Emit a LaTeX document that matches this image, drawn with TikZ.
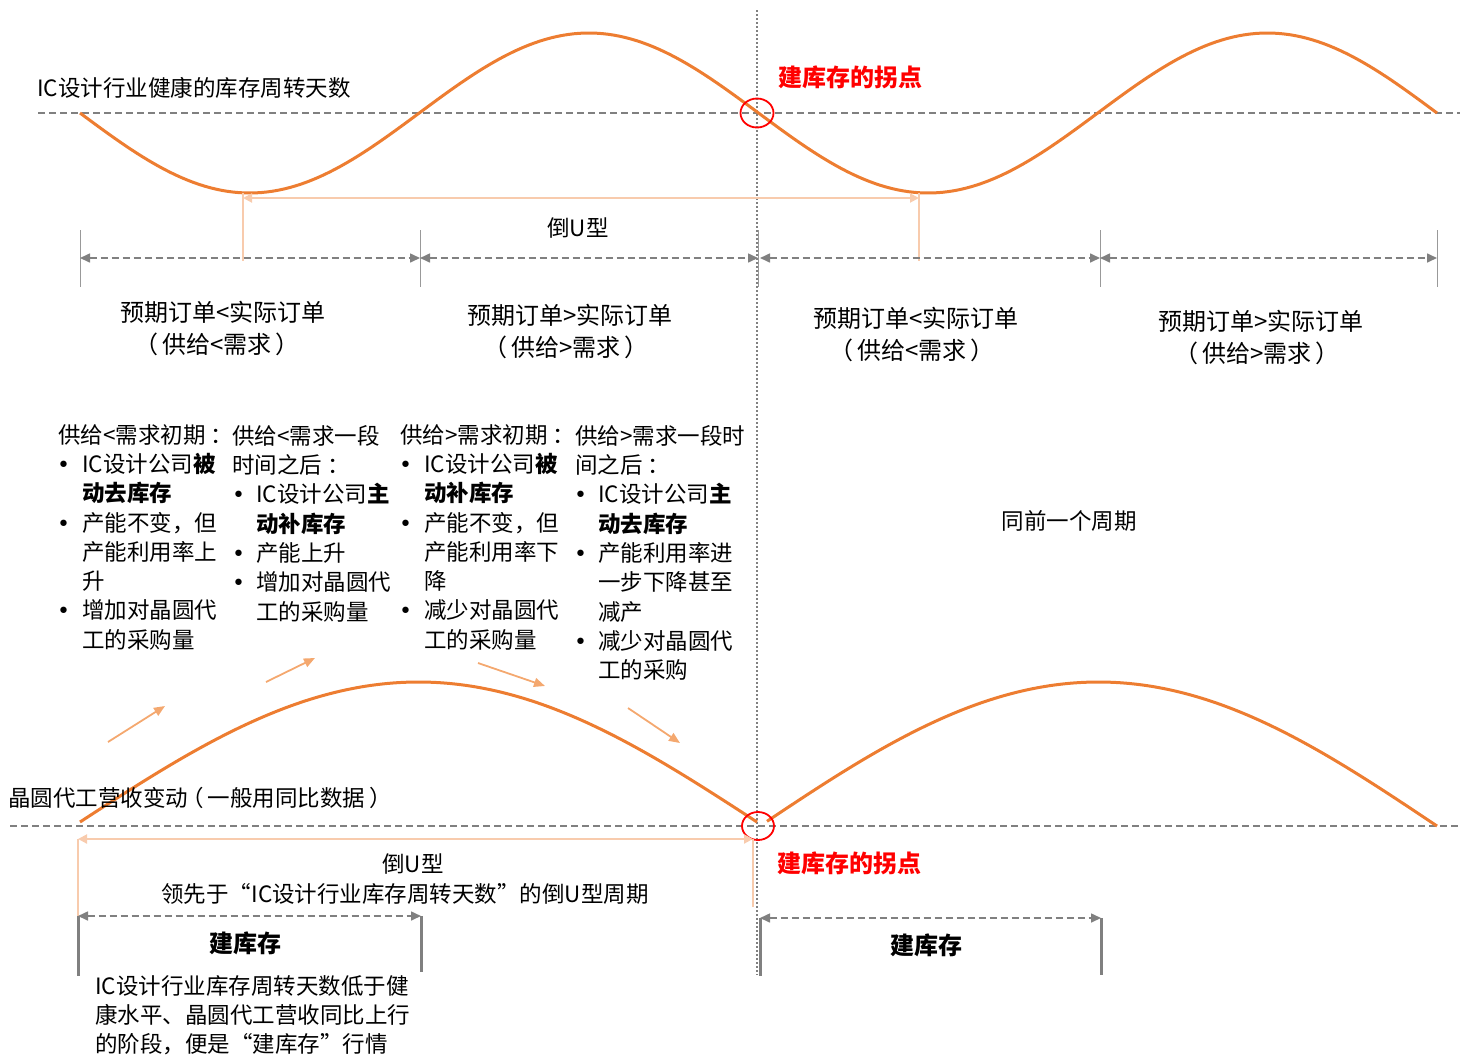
\documentclass[tikz,border=0pt]{standalone}
\usepackage{fontspec}
\setmainfont{Noto Sans CJK SC}
\newfontfamily\bltfont{DejaVu Sans}
\usetikzlibrary{arrows.meta,shapes.geometric}
\definecolor{curveor}{HTML}{ED7D31}
\definecolor{paleor}{HTML}{F8CBAD}
\definecolor{midor}{HTML}{F4A86F}
\definecolor{grline}{HTML}{808080}
\definecolor{redmark}{HTML}{FF0000}
\newcommand{\blt}{\makebox[24pt][l]{\hspace{-1pt}{\bltfont\fontsize{22}{22}\selectfont •}}}
\newcommand{\bltb}{\makebox[23pt][l]{\hspace{-1pt}{\bltfont\fontsize{22}{22}\selectfont •}}}
\newcommand{\ind}{\hspace*{24pt}}
\newcommand{\indb}{\hspace*{23pt}}
\newcommand{\cln}{\hspace{5pt}：}
\newcommand{\lp}{（\hspace{4pt}}
\newcommand{\rp}{\hspace{4pt}）}
\begin{document}
\begin{tikzpicture}[x=1pt,y=-1pt,
  txt/.style={font=\fontsize{22.5}{29.3}\selectfont, inner sep=0pt, align=left},
  ctxt/.style={font=\fontsize{24}{32}\selectfont, inner sep=0pt, align=center},
  redtxt/.style={font=\fontsize{24}{28}\selectfont\bfseries, text=redmark, inner sep=0pt},
  boldtxt/.style={font=\fontsize{24}{28}\selectfont\bfseries, inner sep=0pt},
  wave/.style={draw=curveor, line width=3pt},
  baseline/.style={draw=grline, line width=1.8pt, dash pattern=on 7pt off 4pt},
  dimline/.style={draw=grline, line width=1.6pt, dash pattern=on 7pt off 4pt, {Triangle[length=10pt,width=9pt]}-{Triangle[length=10pt,width=9pt]}},
  tick/.style={draw=grline!80, line width=1pt},
  thicktick/.style={draw=grline, line width=3pt},
  palearrow/.style={draw=paleor, line width=2pt, {Triangle[length=9pt,width=9pt]}-{Triangle[length=9pt,width=9pt]}},
  paleline/.style={draw=paleor, line width=2pt},
  smallarrow/.style={draw=midor, line width=1.8pt, -{Triangle[length=11pt,width=9pt]}},
  ring/.style={draw=redmark, line width=1.8pt}
]
\useasboundingbox (0,0) rectangle (1460,1058);

% ---------- coordinates ----------
\coordinate (tl0) at (38,113);   \coordinate (tl1) at (1460,113);
\coordinate (bl0) at (10,826);   \coordinate (bl1) at (1460,826);
\coordinate (vd0) at (757,10);   \coordinate (vd1) at (757,975);

% baselines
\draw[baseline] (tl0) -- (tl1);
\draw[baseline] (bl0) -- (bl1);
\draw[draw=grline, line width=1.5pt, dash pattern=on 1.5pt off 2.5pt] (vd0) -- (vd1);

% waves
\draw[wave] plot[domain=80:1437, samples=240] (\x, {113+80*sin((\x-80)/678.5*360)});
\draw[wave] plot[domain=80:757, samples=160] (\x, {822-140*sin((\x-80)/677*180)});
\draw[wave] plot[domain=767:1437, samples=160] (\x, {826-144*sin((\x-760)/677*180)});

% red rings
\node[ring, ellipse, minimum width=33pt, minimum height=29pt, inner sep=0pt] (ringT) at (757,113) {};
\node[ring, ellipse, minimum width=32pt, minimum height=28pt, inner sep=0pt] (ringB) at (758,826) {};

% ---------- top labels ----------
\node[txt, anchor=west] (title1) at (37,88) {IC设计行业健康的库存周转天数};
\node[redtxt, anchor=west] (red1) at (778,77) {建库存的拐点};

% pale bracket top
\coordinate (pa0) at (243,198); \coordinate (pa1) at (919,198);
\coordinate (pv0a) at (243,193); \coordinate (pv0b) at (243,261);
\coordinate (pv1a) at (919,193); \coordinate (pv1b) at (919,261);
\draw[paleline] (pv0a) -- (pv0b);
\draw[paleline] (pv1a) -- (pv1b);
\draw[palearrow] (pa0) -- (pa1);
\node[txt, anchor=center] (invU1) at (578,228) {倒U型};

% dimension lines top
\foreach \n/\x in {t0/80, t1/420, t2/758, t3/1100, t4/1437}{
  \coordinate (\n a) at (\x,230); \coordinate (\n b) at (\x,287); \coordinate (\n m) at (\x,258);
  \draw[tick] (\n a) -- (\n b);
}
\draw[dimline] (t0m) -- (t1m);
\draw[dimline] (t1m) -- (t2m);
\draw[dimline] ([xshift=2pt]t2m) -- (t3m);
\draw[dimline] (t3m) -- (t4m);

% period labels
\node[ctxt] (per1) at (223,328) {预期订单<实际订单\\\lp 供给<需求\rp\makebox[12pt]{}};
\node[ctxt] (per2) at (570,331) {预期订单>实际订单\\\lp 供给>需求\rp\makebox[8pt]{}};
\node[ctxt] (per3) at (916,334) {预期订单<实际订单\\\lp 供给<需求\rp\makebox[8pt]{}};
\node[ctxt] (per4) at (1261,337) {预期订单>实际订单\\\lp 供给>需求\rp\makebox[8pt]{}};

% ---------- bullet columns ----------
\node[txt, anchor=north west] (col1) at (58,424) {供给<需求初期\cln\\
\blt IC设计公司\textbf{被}\\
\ind\textbf{动去库存}\\
\blt 产能不变，但\\
\ind 产能利用率上\\
\ind 升\\
\blt 增加对晶圆代\\
\ind 工的采购量};

\node[txt, anchor=north west] (col2) at (232,425) {供给<需求一段\\
时间之后\cln\\
\hspace*{1pt}\bltb IC设计公司\textbf{主}\\
\hspace*{1pt}\indb\textbf{动补库存}\\
\hspace*{1pt}\bltb 产能上升\\
\hspace*{1pt}\bltb 增加对晶圆代\\
\hspace*{1pt}\indb 工的采购量};

\node[txt, anchor=north west] (col3) at (400,424) {供给>需求初期\cln\\
\blt IC设计公司\textbf{被}\\
\ind\textbf{动补库存}\\
\blt 产能不变，但\\
\ind 产能利用率下\\
\ind 降\\
\blt 减少对晶圆代\\
\ind 工的采购量};

\node[txt, anchor=north west] (col4) at (575,425) {供给>需求一段时\\
间之后\cln\\
\bltb IC设计公司\textbf{主}\\
\indb\textbf{动去库存}\\
\bltb 产能利用率进\\
\indb 一步下降甚至\\
\indb 减产\\
\bltb 减少对晶圆代\\
\indb 工的采购};

\node[txt, anchor=center] (same) at (1069,521) {同前一个周期};

% small trend arrows
\coordinate (sa1a) at (108,742); \coordinate (sa1b) at (165,706);
\coordinate (sa2a) at (266,682); \coordinate (sa2b) at (315,658);
\coordinate (sa3a) at (478,663); \coordinate (sa3b) at (545,686);
\coordinate (sa4a) at (628,708); \coordinate (sa4b) at (680,743);
\draw[smallarrow] (sa1a) -- (sa1b);
\draw[smallarrow] (sa2a) -- (sa2b);
\draw[smallarrow] (sa3a) -- (sa3b);
\draw[smallarrow] (sa4a) -- (sa4b);

% ---------- bottom labels ----------
\node[txt, anchor=west] (wafer) at (8,798) {晶圆代工营收变动\hspace{-7pt}\lp 一般用同比数据\rp};
\node[redtxt, anchor=west] (red2) at (777,863) {建库存的拐点};

% pale bracket bottom
\coordinate (pb0) at (78,839); \coordinate (pb1) at (753,839);
\coordinate (pbv0b) at (78,916); \coordinate (pbv1b) at (753,907);
\draw[paleline] (pb0) -- (pbv0b);
\draw[paleline] (pb1) -- (pbv1b);
\draw[palearrow] (pb0) -- (pb1);
\node[txt, anchor=center] (invU2) at (413,864) {倒U型};
\node[txt, anchor=center] (lead) at (405,894) {领先于“IC设计行业库存周转天数”的倒U型周期};

% build-inventory brackets
\coordinate (bd0) at (78,916); \coordinate (bd1) at (421,916);
\coordinate (bd0v) at (78,976); \coordinate (bd1v) at (421,972);
\draw[thicktick] (bd0) -- (bd0v);
\draw[thicktick] (bd1) -- (bd1v);
\draw[dimline] (bd0) -- (bd1);
\node[boldtxt, anchor=center] (build1) at (245,943) {建库存};

\coordinate (bc0) at (760,918); \coordinate (bc1) at (1101,918);
\coordinate (bc0v) at (760,976); \coordinate (bc1v) at (1101,975);
\draw[thicktick] (bc0) -- (bc0v);
\draw[thicktick] (bc1) -- (bc1v);
\draw[dimline] (bc0) -- (bc1);
\node[boldtxt, anchor=center] (build2) at (926,945) {建库存};

\node[txt, anchor=north west] (para) at (95,975) {IC设计行业库存周转天数低于健\\
康水平、晶圆代工营收同比上行\\
的阶段，便是“建库存”行情};
\end{tikzpicture}
\end{document}
